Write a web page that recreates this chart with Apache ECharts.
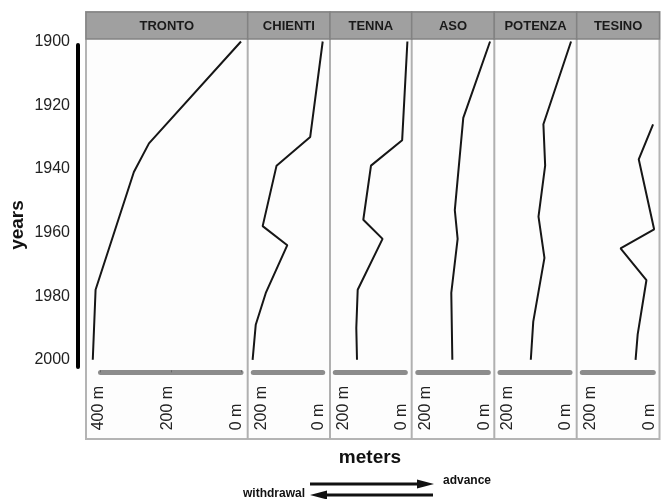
<!DOCTYPE html>
<html><head><meta charset="utf-8">
<script src="https://cdn.jsdelivr.net/npm/echarts@6/dist/echarts.min.js"></script>
<style>html,body{margin:0;padding:0;background:#fff}#c{width:666px;height:499px}</style>
</head><body><div id="c"></div>
<script>
// ---- data ----
const rivers = ['TRONTO','CHIENTI','TENNA','ASO','POTENZA','TESINO'];
const yearTicks = [1900,1920,1940,1960,1980,2000];
const trontoYears  = [1900,1932,1941,1978,2000];
const trontoMeters = [0,262,305,414,422];
const chientiYears  = [1900,1930,1939,1958,1964,1979,1989,2000];
const chientiMeters = [0,36,133,173,102,164,193,202];
const tennaYears  = [1900,1931,1939,1956,1962,1978,1990,2000];
const tennaMeters = [-6,9,98,120,65,136,140,138];
const asoYears  = [1900,1924,1953,1962,1979,2000];
const asoMeters = [-5,71,95,87,105,102];
const potenzaYears  = [1900,1926,1939,1955,1968,1988,2000];
const potenzaMeters = [-3,76,71,90,73,105,112];
const tesinoYears  = [1926,1937,1959,1965,1975,1992,2000];
const tesinoMeters = [-3,38,-6,90,16,41,47];
const meterMax = [400,200,200,200,200,200];
const meterStep = 200;
const yTitle = 'years', xTitle = 'meters';
const advanceLabel = 'advance', withdrawalLabel = 'withdrawal';

const allYears = [trontoYears,chientiYears,tennaYears,asoYears,potenzaYears,tesinoYears];
const allMeters = [trontoMeters,chientiMeters,tennaMeters,asoMeters,potenzaMeters,tesinoMeters];

// ---- layout ----
const FONT = "'Liberation Sans', Arial, Helvetica, sans-serif";
const gridLeft  = [100.5,253.3,335.3,417.8,500,582.3];
const gridWidth = [140.5,69.4,70,70.5,70,71];
const panelEdges = [86,247.7,330,411.7,494.3,576.7,659.5];
const gridTop = 41.5, gridHeight = 318.3;
const panelTop = 12, headerBottom = 39, panelBottom = 439;
const pad = 40; // extra room in data grids so lines are never clipped

const grids = [], xAxes = [], yAxes = [], series = [];
const yBase = {type: 'value', inverse: true, min: yearTicks[0], max: yearTicks[yearTicks.length-1],
  interval: yearTicks[1]-yearTicks[0]};

// data grids (hidden axes)
rivers.forEach((r, i) => {
  const k = gridWidth[i] / meterMax[i];
  const zeroX = gridLeft[i] + gridWidth[i];
  const lo = -pad, hi = meterMax[i] + pad;
  grids.push({left: zeroX - hi*k, width: (hi-lo)*k, top: gridTop, height: gridHeight});
  xAxes.push({type: 'value', gridIndex: i, inverse: true, min: lo, max: hi, show: false});
  yAxes.push(Object.assign({gridIndex: i, show: false}, yBase));
  series.push({
    type: 'line', xAxisIndex: i, yAxisIndex: i, clip: false, symbol: 'none',
    lineStyle: {color: '#161616', width: 2}, z: 5,
    data: allYears[i].map((y, j) => [allMeters[i][j], y])
  });
});

// scale grids (gray bars + labels)
const shiftRich = {
  l4: {padding: [0,0,8,0]}, l3: {padding: [0,0,6,0]}, l2: {padding: [0,0,4,0]}, r6: {padding: [16,0,0,0]}
};
rivers.forEach((r, i) => {
  const gi = rivers.length + i;
  grids.push({left: gridLeft[i], width: gridWidth[i], top: gridTop, height: gridHeight});
  xAxes.push({
    type: 'value', gridIndex: gi, inverse: true, min: 0, max: meterMax[i], interval: meterStep,
    position: 'bottom', offset: 12.5,
    axisLine: {show: true, onZero: false, lineStyle: {color: '#8c8c8c', width: 5}},
    axisTick: {show: i === 0, inside: true, length: 2, lineStyle: {color: '#666', width: 1}},
    splitLine: {show: false},
    axisLabel: {
      rotate: 90, align: 'left', verticalAlign: 'middle', margin: 58,
      fontSize: 16, color: '#222', fontFamily: FONT, rich: shiftRich,
      formatter: v => {
        let key;
        if (v === 0) key = 'l4';
        else if (i === 0) key = (v === 400 ? 'l2' : 'l3');
        else key = 'r6';
        return '{' + key + '|' + v + ' m}';
      }
    }
  });
  yAxes.push(Object.assign({
    gridIndex: gi, show: i === 0, position: 'left', offset: 23.5,
    axisLine: {show: false}, axisTick: {show: false}, splitLine: {show: false},
    axisLabel: {fontSize: 16, color: '#222', margin: 7, fontFamily: FONT, formatter: v => String(v)}
  }, yBase));
});

// black vertical bar of the years axis
const barGrid = grids.length;
grids.push({left: 77.5, width: 1, top: 45, height: 322});
xAxes.push({type: 'value', gridIndex: barGrid, show: false});
yAxes.push(Object.assign({gridIndex: barGrid, position: 'left',
  axisLine: {show: true, onZero: false, lineStyle: {color: '#000', width: 4}},
  axisTick: {show: false}, axisLabel: {show: false}, splitLine: {show: false}}, yBase));

const graphics = [];
graphics.push({type: 'rect', z: -20, shape: {x: panelEdges[0], y: panelTop, width: panelEdges[6]-panelEdges[0], height: panelBottom-panelTop},
  style: {fill: '#fdfdfd', stroke: '#b4b4b4', lineWidth: 2}});
rivers.forEach((r, i) => {
  const x0 = panelEdges[i], x1 = panelEdges[i+1];
  graphics.push({type: 'rect', z: -10, shape: {x: x0, y: panelTop, width: x1-x0, height: headerBottom-panelTop},
    style: {fill: '#a0a0a0', stroke: '#828282', lineWidth: 1.5}});
  graphics.push({type: 'text', z: -5, x: (x0+x1)/2, y: (panelTop+headerBottom)/2+0.5,
    style: {text: r, font: 'bold 13px ' + FONT, fill: '#1a1a1a', align: 'center', verticalAlign: 'middle'}});
  if (i > 0) {
    graphics.push({type: 'line', z: -15, shape: {x1: x0, y1: headerBottom, x2: x0, y2: panelBottom},
      style: {stroke: '#b0b0b0', lineWidth: 2}});
  }
});
graphics.push({type: 'text', x: 18, y: 225, rotation: Math.PI/2,
  style: {text: yTitle, font: 'bold 19px ' + FONT, fill: '#111', align: 'center', verticalAlign: 'middle'}});
graphics.push({type: 'text', x: 370, y: 458,
  style: {text: xTitle, font: 'bold 19px ' + FONT, fill: '#111', align: 'center', verticalAlign: 'middle'}});
graphics.push({type: 'line', shape: {x1: 310, y1: 484, x2: 422, y2: 484}, style: {stroke: '#111', lineWidth: 3}});
graphics.push({type: 'polygon', shape: {points: [[434,484],[417,479.5],[417,488.5]]}, style: {fill: '#111'}});
graphics.push({type: 'line', shape: {x1: 322, y1: 495, x2: 433, y2: 495}, style: {stroke: '#111', lineWidth: 3}});
graphics.push({type: 'polygon', shape: {points: [[310,495],[327,490.5],[327,499.5]]}, style: {fill: '#111'}});
graphics.push({type: 'text', x: 443, y: 481,
  style: {text: advanceLabel, font: 'bold 12px ' + FONT, fill: '#111', align: 'left', verticalAlign: 'middle'}});
graphics.push({type: 'text', x: 305, y: 494,
  style: {text: withdrawalLabel, font: 'bold 12px ' + FONT, fill: '#111', align: 'right', verticalAlign: 'middle'}});

const chart = echarts.init(document.getElementById('c'), null, {renderer: 'canvas'});
chart.setOption({
  backgroundColor: '#ffffff',
  animation: false,
  grid: grids, xAxis: xAxes, yAxis: yAxes, series: series,
  graphic: graphics
});
</script></body></html>
